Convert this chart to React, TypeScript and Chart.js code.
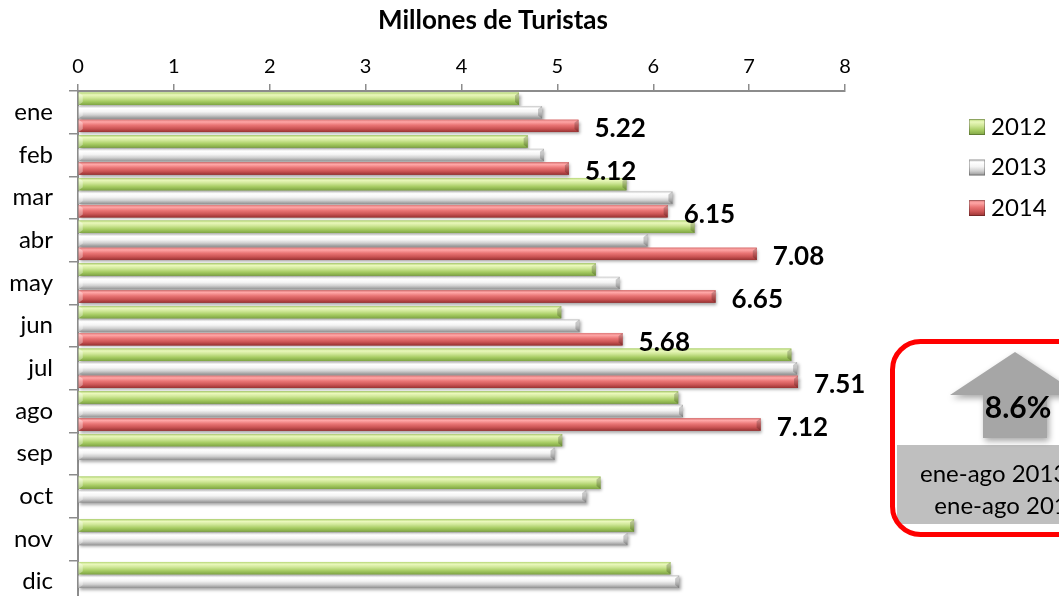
import React, { useEffect, useRef } from "react";
import { Chart, registerables } from "chart.js";

Chart.register(...registerables);

const FONT = "Lato, 'Open Sans', sans-serif";

const months = ["ene", "feb", "mar", "abr", "may", "jun", "jul", "ago", "sep", "oct", "nov", "dic"];
const xTickValues = [0, 1, 2, 3, 4, 5, 6, 7, 8];
const seriesNames = ["2012", "2013", "2014"];
const tourists2012 = [4.6, 4.69, 5.72, 6.43, 5.4, 5.04, 7.44, 6.26, 5.05, 5.45, 5.8, 6.18];
const tourists2013 = [4.84, 4.86, 6.2, 5.94, 5.65, 5.23, 7.5, 6.31, 4.97, 5.3, 5.73, 6.27];
const tourists2014 = [5.22, 5.12, 6.15, 7.08, 6.65, 5.68, 7.51, 7.12, null, null, null, null];
const chartTitle = "Millones de Turistas";
const growthLabel = "8.6%";
const growthPeriodLines = ["ene-ago 2013 vs", "ene-ago 2014"];

const baseColors = ["#a9cf68", "#d9d9d9", "#d65f5f"];
const gradientStops: [number, string][][] = [
  [[0, "#b5d676"], [0.18, "#eaf8bc"], [0.42, "#cfe797"], [0.7, "#a7cc63"], [1, "#7ea443"]],
  [[0, "#cccccc"], [0.18, "#ffffff"], [0.45, "#f4f4f4"], [0.72, "#cfcfcf"], [1, "#939393"]],
  [[0, "#dc7878"], [0.18, "#ffa6a6"], [0.45, "#e97474"], [0.72, "#cc5555"], [1, "#983232"]],
];

const W = 1059;
const H = 610;

function makeGradient(ctx: CanvasRenderingContext2D, di: number, top: number, h: number) {
  const g = ctx.createLinearGradient(0, top, 0, top + h);
  gradientStops[di].forEach(([o, c]) => g.addColorStop(o, c));
  return g;
}

const barStylePlugin = {
  id: "barStyle",
  afterDatasetsDraw(chart: any) {
    const ctx: CanvasRenderingContext2D = chart.ctx;
    chart.data.datasets.forEach((ds: any, di: number) => {
      const meta = chart.getDatasetMeta(di);
      meta.data.forEach((el: any, i: number) => {
        if (ds.data[i] == null) return;
        const { x, y, base, height } = el.getProps(["x", "y", "base", "height"], true);
        const top = y - height / 2;
        const left = Math.min(base, x);
        const right = Math.max(base, x);
        ctx.save();
        ctx.shadowColor = "rgba(0,0,0,0.35)";
        ctx.shadowBlur = 3;
        ctx.shadowOffsetX = 1.5;
        ctx.shadowOffsetY = 2;
        ctx.fillStyle = makeGradient(ctx, di, top, height);
        ctx.fillRect(left, top, right - left, height);
        ctx.restore();
        ctx.save();
        ctx.fillStyle = "rgba(0,0,0,0.2)";
        ctx.beginPath();
        ctx.moveTo(right - 4, top + 3);
        ctx.lineTo(right, top);
        ctx.lineTo(right, top + height);
        ctx.lineTo(right - 4, top + height - 3);
        ctx.closePath();
        ctx.fill();
        ctx.fillStyle = "rgba(255,255,255,0.35)";
        ctx.beginPath();
        ctx.moveTo(left, top);
        ctx.lineTo(left + 4, top + 3);
        ctx.lineTo(left + 4, top + height - 3);
        ctx.lineTo(left, top + height);
        ctx.closePath();
        ctx.fill();
        ctx.restore();
      });
    });
    // value labels for the last series
    const lastIdx = chart.data.datasets.length - 1;
    const meta = chart.getDatasetMeta(lastIdx);
    ctx.save();
    ctx.font = `bold 26px ${FONT}`;
    ctx.fillStyle = "#000";
    ctx.textAlign = "left";
    ctx.textBaseline = "middle";
    meta.data.forEach((el: any, i: number) => {
      const v = chart.data.datasets[lastIdx].data[i];
      if (v == null) return;
      const { x, y } = el.getProps(["x", "y"], true);
      ctx.fillText(Number(v).toFixed(2), x + 16, y + 3);
    });
    ctx.restore();
  },
  afterDraw(chart: any) {
    const ctx: CanvasRenderingContext2D = chart.ctx;
    // title
    ctx.save();
    ctx.font = `bold 26px ${FONT}`;
    ctx.fillStyle = "#000";
    ctx.textAlign = "center";
    ctx.textBaseline = "middle";
    ctx.fillText(chartTitle, 493, 21);
    ctx.restore();

    // legend
    seriesNames.forEach((name, i) => {
      const cy = 127 + i * 40.5;
      ctx.save();
      ctx.fillStyle = makeGradient(ctx, i, cy - 8, 16);
      ctx.fillRect(969, cy - 8, 16, 16);
      ctx.strokeStyle = "rgba(0,0,0,0.25)";
      ctx.lineWidth = 1;
      ctx.strokeRect(969.5, cy - 7.5, 15, 15);
      ctx.font = `24px ${FONT}`;
      ctx.fillStyle = "#000";
      ctx.textAlign = "left";
      ctx.textBaseline = "middle";
      ctx.fillText(name, 991, cy);
      ctx.restore();
    });

    // callout
    ctx.save();
    ctx.fillStyle = "#bfbfbf";
    ctx.fillRect(897, 445, 240, 79);
    ctx.shadowColor = "rgba(0,0,0,0.35)";
    ctx.shadowBlur = 6;
    ctx.shadowOffsetX = 2;
    ctx.shadowOffsetY = 3;
    ctx.fillStyle = "#a6a6a6";
    ctx.beginPath();
    ctx.moveTo(1015, 352);
    ctx.lineTo(1080, 395);
    ctx.lineTo(1047, 395);
    ctx.lineTo(1047, 438);
    ctx.lineTo(983, 438);
    ctx.lineTo(983, 395);
    ctx.lineTo(950, 395);
    ctx.closePath();
    ctx.fill();
    ctx.restore();

    ctx.save();
    ctx.strokeStyle = "#ff0000";
    ctx.lineWidth = 5;
    ctx.beginPath();
    (ctx as any).roundRect(892.5, 341.5, 260, 193, 28);
    ctx.stroke();
    ctx.fillStyle = "#000";
    ctx.textAlign = "center";
    ctx.textBaseline = "middle";
    ctx.font = `bold 30px ${FONT}`;
    ctx.fillText(growthLabel, 1018, 408);
    ctx.font = `24px ${FONT}`;
    ctx.fillText(growthPeriodLines[0], 1008, 474);
    ctx.fillText(growthPeriodLines[1], 1008, 506);
    ctx.restore();
  },
};

export default function App() {
  const ref = useRef<HTMLCanvasElement>(null);
  useEffect(() => {
    const chart = new Chart(ref.current as HTMLCanvasElement, {
      type: "bar",
      data: {
        labels: months,
        datasets: [
          { label: seriesNames[0], data: tourists2012, backgroundColor: baseColors[0] },
          { label: seriesNames[1], data: tourists2013, backgroundColor: baseColors[1] },
          { label: seriesNames[2], data: tourists2014 as any, backgroundColor: baseColors[2] },
        ],
      },
      options: {
        indexAxis: "y",
        responsive: false,
        animation: false,
        devicePixelRatio: 1,
        categoryPercentage: 0.95,
        barPercentage: 0.92,
        layout: { padding: { left: 0, top: 0, right: W - 845, bottom: H - 603 } },
        plugins: {
          legend: { display: false },
          title: { display: false },
          tooltip: { enabled: false },
        },
        scales: {
          x: {
            type: "linear",
            position: "top",
            min: 0,
            max: 8,
            afterBuildTicks: (s: any) => {
              s.ticks = xTickValues.map((v) => ({ value: v }));
            },
            ticks: { font: { family: FONT, size: 20 }, color: "#000", padding: 5, maxRotation: 0 },
            grid: { display: true, drawOnChartArea: false, drawTicks: true, tickLength: 7, color: "#8c8c8c", lineWidth: 1.5 },
            border: { display: true, color: "#8c8c8c", width: 2 },
            afterFit: (s: any) => {
              s.height = 91;
              s.paddingLeft = 0;
              s.paddingRight = 0;
            },
          },
          y: {
            type: "category",
            ticks: { font: { family: FONT, size: 24 }, color: "#000", padding: 16 },
            grid: { display: true, offset: true, drawOnChartArea: false, drawTicks: true, tickLength: 9, color: "#8c8c8c", lineWidth: 1.5 },
            border: { display: true, color: "#8c8c8c", width: 2 },
            afterFit: (s: any) => {
              s.width = 78;
              s.paddingTop = 0;
              s.paddingBottom = 0;
            },
          },
        },
      } as any,
      plugins: [barStylePlugin],
    });
    return () => chart.destroy();
  }, []);
  return (
    <div style={{ position: "absolute", left: 0, top: 0, width: W, height: 596, overflow: "hidden", background: "#fff" }}>
      <canvas ref={ref} width={W} height={H} style={{ display: "block" }} />
    </div>
  );
}
